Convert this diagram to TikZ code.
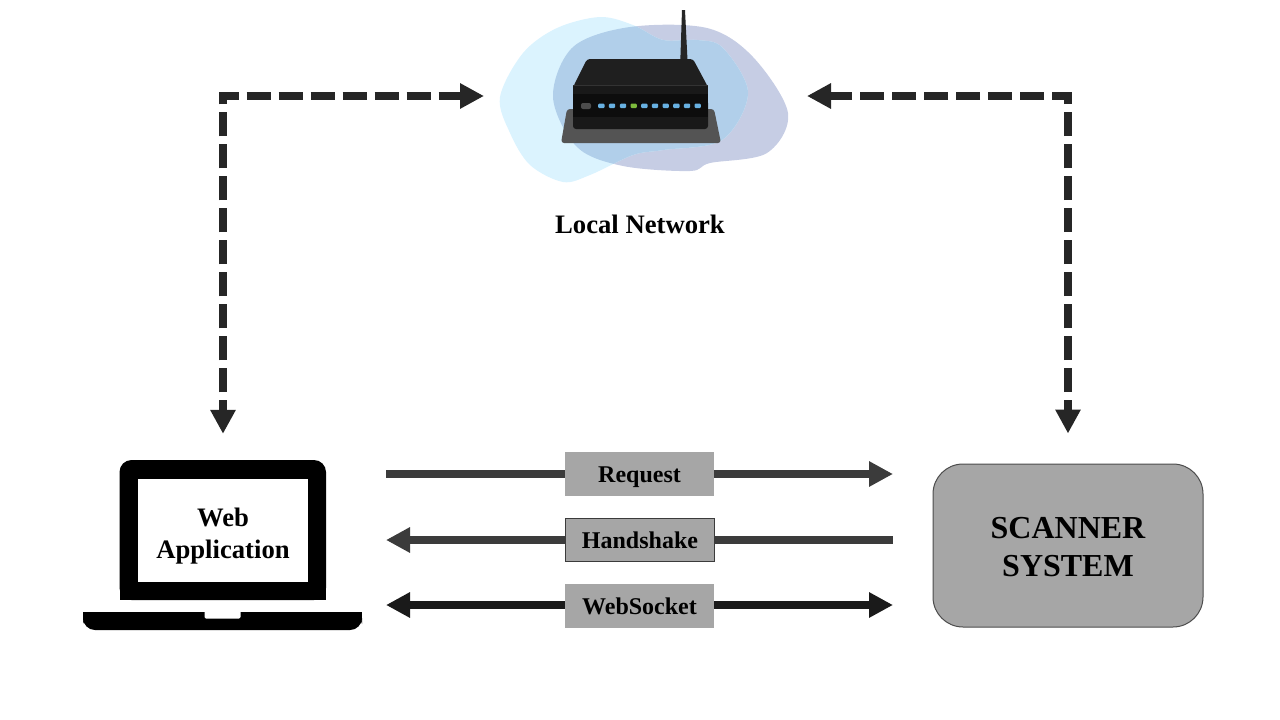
\documentclass[tikz,border=0pt]{standalone}
\usepackage{fontspec}
\usepackage{xcolor}
\usetikzlibrary{arrows.meta, positioning}
\setmainfont{Liberation Serif}
\definecolor{boxgray}{HTML}{A6A6A6}
\definecolor{dashgray}{HTML}{262626}
\definecolor{flowgray}{HTML}{3B3B3B}
\definecolor{socketblack}{HTML}{1A1A1A}
\definecolor{blobsky}{HTML}{DBF3FE}
\definecolor{blobviolet}{HTML}{C6CDE4}
\definecolor{blobmix}{HTML}{B1CFEA}
\definecolor{ledblue}{HTML}{68B1E2}
\definecolor{ledgreen}{HTML}{7DBB3C}
\tikzset{
    linkdash/.style={draw=dashgray, line width=8pt, dash pattern=on 24pt off 8pt, dash phase=13pt,
        {Triangle[length=24pt, width=24pt]}-{Triangle[length=24pt, width=24pt]}},
    flowline/.style={line width=8pt, -{Triangle[length=24pt, width=24pt]}},
    flowstub/.style={line width=8pt},
    msgbox/.style={fill=boxgray, minimum width=149pt, minimum height=44pt, inner sep=0pt, text height=16pt, text depth=0pt, font=\fontsize{24}{28}\selectfont\bfseries},
    led/.style={fill=ledblue, rounded corners=1pt}
}

\begin{document}
\begin{tikzpicture}[x=1pt, y=-1pt]
    \useasboundingbox (0,0) rectangle (1280,720);
    % blobs behind the router
    \path[save path=\blobsky] plot[smooth cycle, tension=0.55] coordinates {(500,97) (523,53) (557,28) (600,17) (633,25) (663,40) (697,40) (723,48) (748,93) (722,140) (663,150) (633,155) (590,175) (563,182) (530,165) (510,133)};
    \path[save path=\blobviolet] plot[smooth cycle, tension=0.55] coordinates {(553,97) (573,47) (630,27) (707,28) (753,57) (788,113) (767,153) (710,163) (690,171) (623,166) (577,147)};
    \fill[blobviolet, use path=\blobviolet];
    \fill[blobsky, use path=\blobsky];
    \begin{scope}
        \clip[use path=\blobviolet];
        \fill[blobmix, use path=\blobsky];
    \end{scope}
    % router
    \fill[black!67, rounded corners=3pt] (567,109) -- (714,109) -- (721,143) -- (561,143) -- cycle;
    \fill[black!85] (682,10) -- (685,10) -- (688,70) -- (680,70) -- cycle;
    \fill[black!88, rounded corners=3pt] (587,59) -- (693,59) -- (708,87) -- (573,87) -- cycle;
    \fill[black!90, rounded corners=3pt] (573,100) -- (573,129) -- (708,129) -- (708,100) -- cycle;
    \fill[black!90] (573,85) rectangle (708,100);
    \fill[black!80] (573,85) rectangle (708,86);
    \fill[black!95] (573,94) rectangle (708,117);
    \fill[black!70, rounded corners=2pt] (581,103) rectangle (591,109);
    \foreach \ledx in {601.3,612,623,644.3,655,665.7,676.3,687,697.7}
        \fill[led] (\ledx-3.2,103.7) rectangle (\ledx+3.2,108);
    \fill[led, fill=ledgreen] (630.5,103.7) rectangle (636.9,108);
    \node[font=\fontsize{26.67}{32}\selectfont\bfseries] (localnet) at (640,224) {Local Network};
    % laptop
    \fill[black, rounded corners=12pt] (119.5,600) -- (119.5,460) -- (326,460) -- (326,600) -- cycle;
    \fill[black] (119.5,585) rectangle (326,600);
    \fill[black, rounded corners=12pt] (83,612) -- (83,630) -- (362,630) -- (362,612) -- cycle;
    \fill[black] (83,612) rectangle (362,620);
    \fill[white, rounded corners=1.5pt] (204.5,610) -- (204.5,618.5) -- (240.5,618.5) -- (240.5,610) -- cycle;
    \node[fill=white, minimum width=170pt, minimum height=103pt, inner sep=0pt] (screen) at (223,530.5) {};
    \node[align=center, font=\fontsize{26.67}{32}\selectfont\bfseries] (webapp) at (223,536) {Web\\Application};
    % scanner
    \node[fill=boxgray, draw=black!70, line width=1pt, rounded corners=30pt, minimum width=270pt, minimum height=163pt, inner sep=0pt] (scanner) at (1068,545.5) {};
    \node[align=center, font=\fontsize{32}{38}\selectfont\bfseries] (scannerlabel) at (1068,547.5) {SCANNER\\SYSTEM};
    % messages
    \node[msgbox] (request) at (639.5,474) {Request};
    \node[msgbox, draw=flowgray, line width=1pt, minimum height=43pt] (handshake) at (640,540) {Handshake};
    \node[msgbox] (websocket) at (639.5,606) {WebSocket};
    \coordinate (reqleft) at (386,474);
    \coordinate (reqright) at (893,474);
    \coordinate (hsleft) at (386,540);
    \coordinate (hsright) at (893,540);
    \coordinate (wsleft) at (386,605);
    \coordinate (wsright) at (893,605);
    \draw[flowstub, flowgray] (reqleft) -- (reqleft -| request.west);
    \draw[flowline, flowgray] (reqright -| request.east) -- (reqright);
    \draw[flowline, flowgray] (hsleft -| handshake.west) -- (hsleft);
    \draw[flowstub, flowgray] (hsright -| handshake.east) -- (hsright);
    \draw[flowline, socketblack] (wsleft -| websocket.west) -- (wsleft);
    \draw[flowline, socketblack] (wsright -| websocket.east) -- (wsright);
    % dashed links
    \coordinate[above=45pt of screen] (webtop);
    \coordinate[above=30pt of scanner] (scantop);
    \coordinate (routerleft) at (484,96);
    \coordinate (routerright) at (807,96);
    \draw[linkdash] (webtop) |- (routerleft);
    \draw[linkdash] (scantop) |- (routerright);
\end{tikzpicture}
\end{document}
